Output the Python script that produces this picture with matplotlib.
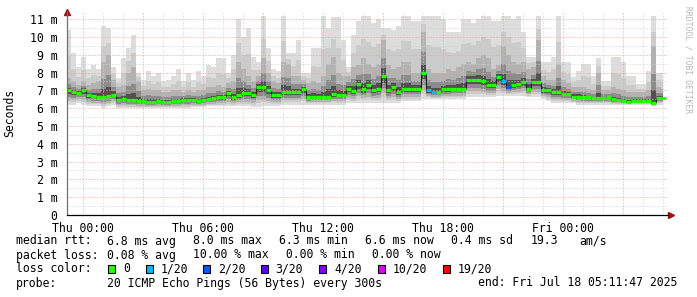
import numpy as np
import matplotlib.pyplot as plt
from matplotlib.patches import Rectangle

# 5-minute-ish samples every 15 min, hours relative to Thu 00:00
hours = np.arange(120) * 0.25 - 0.75

# median rtt (ms)
median = [7.0, 6.9, 6.85, 7.0, 6.75, 6.7, 6.65, 6.65, 6.7, 6.75,
          6.45, 6.5, 6.45, 6.45, 6.4, 6.4, 6.35, 6.35, 6.4, 6.35,
          6.35, 6.4, 6.4, 6.45, 6.45, 6.45, 6.4, 6.45, 6.5, 6.55,
          6.6, 6.6, 6.85, 6.6, 6.75, 6.85, 6.85, 6.75, 7.2, 7.2,
          7.0, 6.75, 6.75, 6.9, 6.9, 6.9, 6.9, 7.1, 6.6, 6.65,
          6.65, 6.65, 6.65, 6.8, 6.75, 6.75, 7.1, 6.95, 7.35, 7.05,
          7.3, 7.0, 7.1, 7.8, 7.0, 7.2, 6.9, 7.1, 7.1, 7.1,
          7.1, 8.0, 7.0, 6.9, 6.9, 7.05, 7.05, 7.1, 7.1, 7.1,
          7.6, 7.6, 7.6, 7.5, 7.3, 7.3, 7.75, 7.5, 7.2, 7.3,
          7.35, 7.45, 7.1, 7.45, 7.45, 7.0, 7.0, 6.9, 6.9, 6.8,
          6.8, 6.65, 6.65, 6.6, 6.6, 6.55, 6.55, 6.55, 6.6, 6.5,
          6.45, 6.4, 6.35, 6.4, 6.4, 6.4, 6.4, 6.3, 6.55, 6.55]

# highest ping of each round (ms)
ping_max = [10.4, 9.1, 8.3, 8.9, 8.2, 8.4, 8.2, 10.6, 10.5, 8.3,
            7.7, 8.8, 9.4, 10.1, 8.0, 7.6, 8.1, 7.8, 8.0, 7.5,
            7.6, 7.8, 8.2, 7.5, 8.0, 7.6, 8.1, 7.8, 8.4, 8.3,
            8.8, 8.8, 8.0, 9.0, 11.0, 10.0, 10.5, 8.9, 8.6, 11.2,
            9.4, 8.2, 8.1, 11.2, 9.1, 9.1, 9.8, 8.0, 8.0, 9.4,
            9.4, 11.2, 10.5, 11.1, 11.1, 9.8, 8.3, 10.1, 10.9, 11.2,
            11.2, 10.8, 11.0, 10.5, 10.5, 10.4, 10.6, 11.2, 11.2, 10.9,
            10.9, 11.2, 11.2, 11.2, 11.2, 11.0, 10.3, 10.3, 10.3, 11.0,
            11.0, 10.8, 11.0, 11.2, 11.2, 10.9, 10.9, 11.2, 11.2, 11.0,
            11.2, 10.3, 8.9, 8.9, 11.2, 8.6, 8.6, 8.9, 11.2, 8.6,
            8.6, 7.75, 8.1, 8.5, 8.5, 7.8, 8.8, 7.5, 7.5, 8.9,
            8.9, 8.6, 7.8, 7.8, 7.35, 7.35, 8.1, 11.2, 8.0, 8.0]

# upper edge of the denser smoke (ms)
ping_mid = [7.7, 7.5, 7.3, 7.5, 7.3, 7.4, 7.5, 8.6, 9.0, 7.6,
            7.2, 7.3, 8.0, 8.3, 7.5, 7.0, 7.1, 7.0, 7.0, 6.9,
            6.9, 7.0, 7.0, 6.9, 7.0, 6.9, 7.0, 7.0, 7.2, 7.2,
            7.3, 7.2, 7.4, 7.5, 8.6, 8.2, 7.8, 7.5, 7.8, 8.8,
            8.0, 7.5, 7.4, 8.6, 8.5, 7.8, 7.8, 7.6, 7.4, 7.5,
            7.4, 7.8, 8.5, 8.9, 8.0, 7.8, 7.8, 8.3, 8.4, 8.8,
            8.5, 8.3, 8.5, 9.8, 8.4, 8.2, 8.3, 8.6, 8.6, 8.0,
            8.0, 10.3, 8.2, 8.0, 8.0, 8.0, 8.2, 8.1, 8.3, 8.5,
            8.6, 8.5, 8.8, 9.0, 8.8, 8.2, 8.4, 9.5, 9.0, 8.6,
            8.5, 8.6, 8.2, 8.3, 9.8, 7.8, 7.6, 7.6, 8.5, 7.6,
            7.4, 7.2, 7.2, 7.2, 7.1, 7.0, 8.0, 7.0, 7.0, 7.2,
            7.1, 7.0, 6.9, 6.9, 6.9, 6.9, 7.0, 9.5, 7.2, 7.1]

# lowest ping of each round (ms)
ping_min = [6.2, 6.2, 6.3, 6.2, 6.1, 6.1, 6.1, 6.0, 6.1, 6.2,
            6.0, 6.0, 6.0, 6.0, 6.0, 6.0, 6.0, 6.0, 6.0, 6.0,
            6.0, 6.0, 6.0, 6.0, 6.0, 6.05, 6.05, 6.05, 6.1, 6.1,
            6.1, 6.1, 6.1, 6.1, 6.1, 6.1, 6.1, 6.05, 6.05, 6.1,
            6.1, 6.1, 6.1, 6.2, 6.2, 6.2, 6.2, 6.2, 6.2, 6.2,
            6.2, 6.2, 6.2, 6.2, 6.2, 6.2, 6.3, 6.3, 6.3, 6.3,
            6.3, 6.3, 6.3, 6.3, 6.3, 6.3, 6.3, 6.4, 6.4, 6.4,
            6.4, 6.5, 6.5, 6.5, 6.5, 6.5, 6.5, 6.5, 6.5, 6.5,
            6.6, 6.6, 6.6, 6.6, 6.6, 6.6, 6.7, 6.7, 6.7, 6.7,
            6.7, 6.7, 6.6, 6.6, 6.6, 6.5, 6.4, 6.3, 6.3, 6.3,
            6.3, 6.3, 6.2, 6.2, 6.2, 6.2, 6.2, 6.2, 6.2, 6.2,
            6.2, 6.2, 6.2, 6.2, 6.2, 6.2, 6.2, 6.1, 6.2, 6.2]

# lost pings per round (only the non-zero ones)
lost = {72: 1, 73: 1, 87: 1, 88: 2}

loss_labels = ['0', '1/20', '2/20', '3/20', '4/20', '10/20', '19/20']
loss_colors = ['#26ff00', '#00b8ff', '#0059ff', '#5e00ff', '#7e00ff', '#dd00ff', '#ff0000']
loss_steps = [0, 1, 2, 3, 4, 10, 19]

tick_hours = [0, 6, 12, 18, 24]
tick_names = ['Thu 00:00', 'Thu 06:00', 'Thu 12:00', 'Thu 18:00', 'Fri 00:00']

med = np.array(median) / 1000
hi = np.array(ping_max) / 1000
mid = np.array(ping_mid) / 1000
lo = np.array(ping_min) / 1000

W, H = 697, 297
plt.rcParams['font.family'] = ['DejaVu Sans Mono']
fs = 8.3

fig = plt.figure(figsize=(W / 100, H / 100), dpi=100)
ax = fig.add_axes([67 / W, 1 - 215 / H, (668 - 67) / W, (215 - 12) / H])

# smoke, lightest to darkest
ax.fill_between(hours, lo, hi, step='mid', color='#dddddd', lw=0, zorder=1)
ax.fill_between(hours, lo + (med - lo) * 0.2, mid + (hi - mid) * 0.45, step='mid',
                color='#cbcbcb', lw=0, zorder=1)
ax.fill_between(hours, lo + (med - lo) * 0.35, mid, step='mid', color='#b2b2b2', lw=0, zorder=1)
ax.fill_between(hours, med - (med - lo) * 0.45, med + (mid - med) * 0.5, step='mid',
                color='#8c8c8c', lw=0, zorder=1)
ax.fill_between(hours, med - (med - lo) * 0.25, med + (mid - med) * 0.22, step='mid',
                color='#505050', lw=0, zorder=1)

# median line, coloured by loss
half = 0.125
ax.vlines(hours[1:] - half, med[:-1], med[1:], color='#202020', lw=0.8, zorder=3)
cols = []
for i in range(len(hours)):
    n = lost.get(i, 0)
    k = max(j for j, s in enumerate(loss_steps) if s <= n)
    cols.append(loss_colors[k])
ax.hlines(med, hours - half, hours + half, colors=cols, lw=2.3, zorder=4)

ax.set_xlim(-0.8, 29.25)
ax.set_ylim(0, 0.0114)

# grid
ax.set_xticks(tick_hours)
ax.set_xticklabels(tick_names)
ax.set_yticks(np.arange(0, 12) / 1000)
ax.set_yticklabels(['0'] + ['%d m' % v for v in range(1, 12)])
dot = (0, (1, 2))
for v in np.arange(0.5, 11.5, 0.5):
    c = '#f0a0a0' if v == int(v) else '#d0d0d0'
    ax.axhline(v / 1000, color=c, lw=0.72, ls=dot, zorder=2)
for h in range(0, 30):
    c = '#f0a0a0' if h % 3 == 0 else '#d0d0d0'
    ax.axvline(h, color=c, lw=0.72, ls=dot, zorder=2)

ax.tick_params(which='both', length=0, labelsize=fs, colors='#000000')
ax.tick_params(axis='y', pad=7)
ax.tick_params(axis='x', pad=5)
for s in ['top', 'right']:
    ax.spines[s].set_visible(False)
ax.spines['left'].set_color('#707070')
ax.spines['bottom'].set_color('#000000')
ax.spines['left'].set_linewidth(0.9)
ax.spines['bottom'].set_linewidth(0.9)
ax.spines['left'].set_zorder(5)
ax.spines['bottom'].set_zorder(5)
ax.plot([0], [1.0], marker='^', ms=4, color='#a01010', transform=ax.transAxes, clip_on=False)
ax.plot([1.005], [0], marker='>', ms=4, color='#a01010', transform=ax.transAxes, clip_on=False)

fig.text(10 / W, 1 - 113 / H, 'Seconds', rotation=90, ha='center', va='center', fontsize=fs)
fig.text(688 / W, 1 - 60 / H, 'RRDTOOL / TOBI OETIKER', rotation=270, ha='center', va='center',
         fontsize=5.8, color='#b8b8b8')

# legend rows
def put(x, y, s):
    fig.text(x / W, 1 - y / H, s, ha='left', va='center', fontsize=fs)

put(16, 241, 'median rtt:')
for k, s in enumerate(['6.8 ms avg', '8.0 ms max', '6.3 ms min', '6.6 ms now', '0.4 ms sd']):
    put(107.3 + 86 * k, 241, s)
put(530.7, 241, '19.3')
put(579.3, 241, 'am/s')

put(16, 255, 'packet loss:')
for k, s in enumerate(['0.08 % avg', '10.00 % max', ' 0.00 % min', ' 0.00 % now']):
    put(107.3 + 86 * k, 255, s)

put(16, 269, 'loss color:')
box_x = [108.3, 145.7, 203.3, 260.7, 319, 377.7, 442.7]
for bx, c, s in zip(box_x, loss_colors, loss_labels):
    fig.patches.append(Rectangle((bx / W, 1 - 273 / H), 7 / W, 8 / H, transform=fig.transFigure,
                                 facecolor=c, edgecolor='#000000', lw=0.8))
    put(bx + 15, 269, s)

put(16, 283, 'probe:')
put(107.3, 283, '20 ICMP Echo Pings (56 Bytes) every 300s')
put(478.3, 283, 'end: Fri Jul 18 05:11:47 2025')

fig.savefig('out.png', dpi=100, facecolor='white')
